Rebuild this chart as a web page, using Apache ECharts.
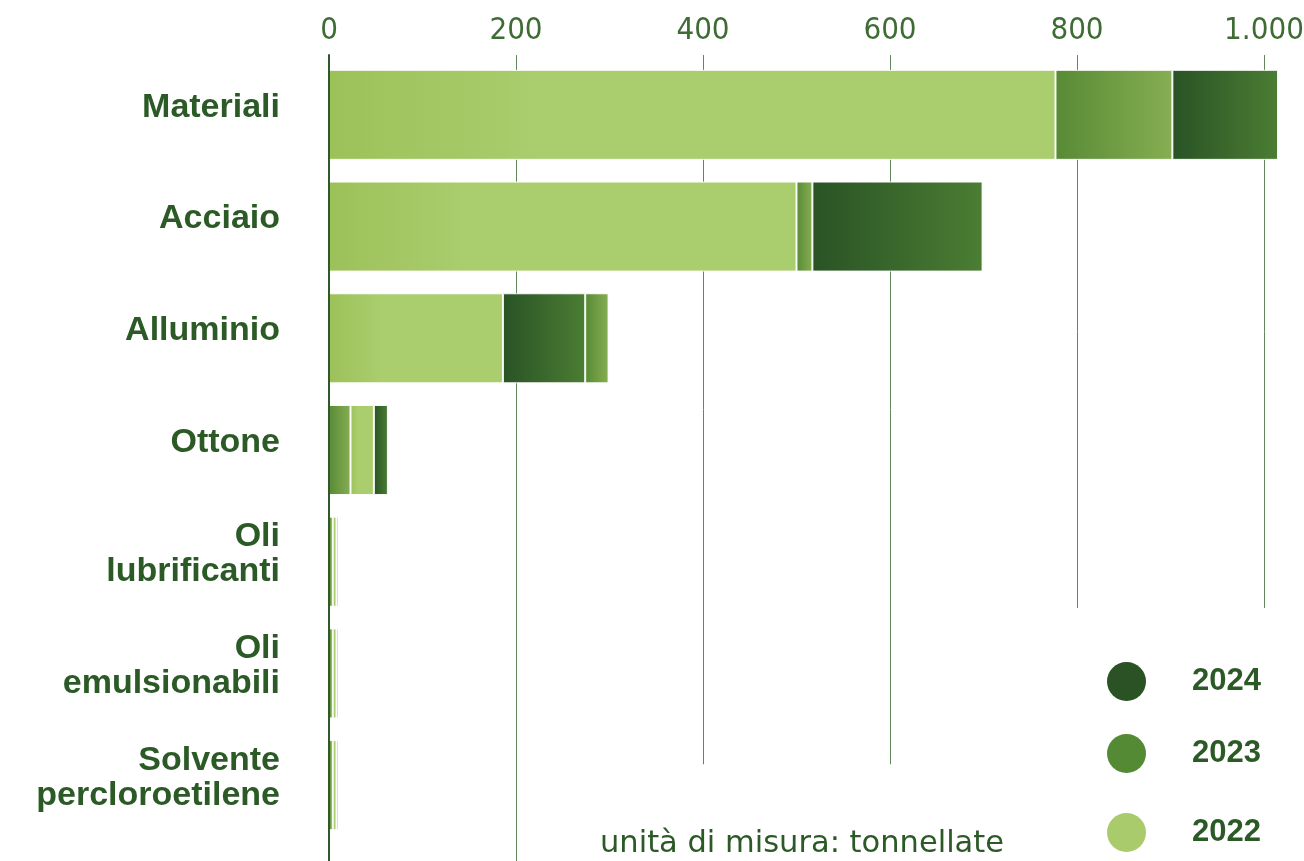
<!DOCTYPE html>
<html>
<head>
<meta charset="utf-8">
<script src="https://cdn.jsdelivr.net/npm/echarts@6/dist/echarts.min.js"></script>
<style>
  html, body { margin: 0; padding: 0; background: #fff; }
  #chart { width: 1304px; height: 861px; }
</style>
</head>
<body>
<div id="chart"></div>
<script>
// rifiuti per tipologia, tonnellate
const categories = ['Materiali', 'Acciaio', 'Alluminio', 'Ottone', 'Oli\nlubrificanti', 'Oli\nemulsionabili', 'Solvente\npercloroetilene'];
const years = ['2024', '2023', '2022'];
const values2022 = [777, 500, 186, 25, 4, 4, 4];
const values2023 = [125, 17, 25, 23, 4, 4, 4];
const values2024 = [113, 182, 88, 15, 2, 2, 2];
// order of the segments in each bar, left to right
const segmentOrder = [
  ['2022', '2023', '2024'],
  ['2022', '2023', '2024'],
  ['2022', '2024', '2023'],
  ['2023', '2022', '2024'],
  ['2023', '2022', '2024'],
  ['2023', '2022', '2024'],
  ['2023', '2022', '2024']
];
const xTicks = [0, 200, 400, 600, 800, 1000];

// layout: where each grid line stops (percent of the lower panel height)
const gridLineEnds = [null, 100, 88, 88, 68.6, 68.6];
const legendTops = [662, 734, 813];

const valuesByYear = { '2022': values2022, '2023': values2023, '2024': values2024 };
const darkGreen = '#2b5a26';
const labelFont = '"Liberation Sans", Arial, sans-serif';

const yearColors = {
  '2024': new echarts.graphic.LinearGradient(0, 0, 1, 0, [
    { offset: 0, color: '#295325' },
    { offset: 1, color: '#4b7d33' }
  ]),
  '2023': new echarts.graphic.LinearGradient(0, 0, 1, 0, [
    { offset: 0, color: '#588a35' },
    { offset: 1, color: '#86ae52' }
  ]),
  '2022': new echarts.graphic.LinearGradient(0, 0, 1, 0, [
    { offset: 0, color: '#9dc159' },
    { offset: 0.3, color: '#aacd6e' },
    { offset: 1, color: '#aacd6e' }
  ])
};
const legendColors = { '2024': '#2a5225', '2023': '#558a34', '2022': '#a9cb6b' };

// thousands with a dot, as in the original
const fmtThousands = (v) => String(v).replace(/\B(?=(\d{3})+(?!\d))/g, '.');

// category names, each line as rich text, plus a small empty line below
// so the text sits a little above the bar centre as in the original
const fmtCategory = (v) => v.split('\n').map((s) => '{t|' + s + '}').join('\n') + '\n{g|}';

const barSeries = [];
[0, 1, 2].forEach((pos) => {
  ['2022', '2023', '2024'].forEach((year) => {
    barSeries.push({
      name: year,
      type: 'bar',
      stack: 'totale',
      barWidth: 90,
      clip: false,
      z: 3,
      data: categories.map((c, i) => (segmentOrder[i][pos] === year ? valuesByYear[year][i] : '-')),
      itemStyle: {
        color: yearColors[year],
        borderColor: 'rgba(255,255,255,0.9)',
        borderWidth: 1
      },
      emphasis: { disabled: true }
    });
  });
});

// grid lines of different length, drawn on the lower panel
const gridLineSeries = {
  type: 'line',
  xAxisIndex: 1,
  yAxisIndex: 1,
  data: [],
  silent: true,
  z: 1,
  markLine: {
    silent: true,
    symbol: 'none',
    z: 1,
    label: { show: false },
    lineStyle: { color: '#62875a', width: 1, type: 'solid' },
    data: xTicks
      .map((t, k) => [{ coord: [t, 0] }, { coord: [t, gridLineEnds[k]] }])
      .filter((_, k) => gridLineEnds[k] !== null)
  }
};

const chart = echarts.init(document.getElementById('chart'));
chart.setOption({
  animation: false,
  backgroundColor: '#ffffff',
  grid: [
    { left: 329, right: 40, top: 59, height: 782, outerBoundsMode: 'none' },
    { left: 329, right: 40, top: 55, height: 806, outerBoundsMode: 'none' }
  ],
  xAxis: [
    {
      type: 'value',
      gridIndex: 0,
      position: 'top',
      min: 0,
      max: 1000,
      interval: 200,
      axisLine: { show: false },
      axisTick: { show: false },
      splitLine: { show: false },
      axisLabel: {
        color: '#3e6c34',
        fontSize: 31,
        fontFamily: '"Liberation Sans Narrow", "DejaVu Sans Condensed", sans-serif',
        margin: 13,
        formatter: fmtThousands
      }
    },
    { type: 'value', gridIndex: 1, min: 0, max: 1000, show: false }
  ],
  yAxis: [
    {
      type: 'category',
      gridIndex: 0,
      data: categories,
      inverse: true,
      axisLine: { show: false },
      axisTick: { show: false },
      axisLabel: {
        interval: 0,
        margin: 49,
        align: 'right',
        formatter: fmtCategory,
        rich: {
          t: {
            color: darkGreen,
            fontSize: 34,
            fontWeight: 'bold',
            fontFamily: labelFont,
            lineHeight: 35,
            align: 'right'
          },
          g: { fontSize: 1, lineHeight: 15 }
        }
      }
    },
    {
      type: 'value',
      gridIndex: 1,
      min: 0,
      max: 100,
      inverse: true,
      z: 5,
      axisLine: { show: true, onZero: false, lineStyle: { color: '#2d5a28', width: 2 } },
      axisTick: { show: false },
      axisLabel: { show: false },
      splitLine: { show: false }
    }
  ],
  legend: years.map((y, k) => ({
    data: [{ name: y, itemStyle: { color: legendColors[y], borderWidth: 0 } }],
    left: 1107,
    top: legendTops[k],
    orient: 'vertical',
    icon: 'circle',
    itemWidth: 39,
    itemHeight: 39,
    padding: 0,
    selectedMode: false,
    textStyle: {
      color: darkGreen,
      fontSize: 31,
      fontWeight: 'bold',
      fontFamily: labelFont,
      padding: [0, 0, 0, 41]
    }
  })),
  graphic: [
    {
      type: 'text',
      left: 600,
      top: 829,
      style: {
        text: 'unità di misura: tonnellate',
        fill: darkGreen,
        font: '30.5px "DejaVu Sans", sans-serif'
      }
    }
  ],
  series: [gridLineSeries].concat(barSeries)
});
</script>
</body>
</html>
